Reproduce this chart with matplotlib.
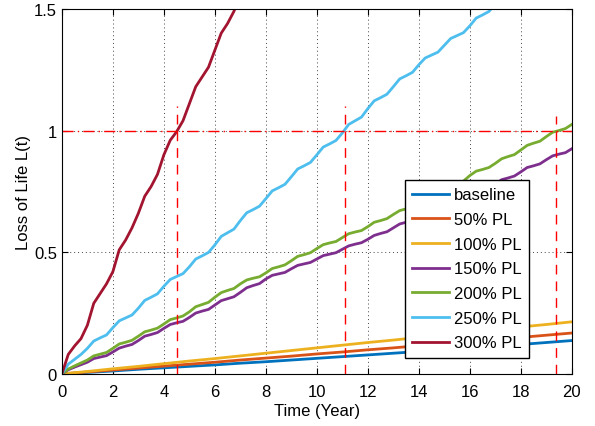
import numpy as np
import matplotlib
matplotlib.use('Agg')
import matplotlib.pyplot as plt

plt.rcParams['font.family'] = ['Liberation Sans', 'DejaVu Sans']

# yearly time axis for the nearly straight lines
years = np.arange(0, 21)
baseline = [0, .006, .012, .019, .025, .031, .037, .044, .050, .057, .064,
            .071, .078, .085, .092, .099, .106, .114, .121, .129, .137]
pl_50 = [0, .008, .016, .024, .032, .040, .048, .057, .065, .073, .082,
         .090, .099, .107, .116, .124, .133, .142, .150, .159, .168]
pl_100 = [0, .010, .021, .031, .042, .053, .063, .074, .085, .096, .107,
          .118, .129, .139, .150, .161, .171, .182, .193, .203, .214]

# quarter-year samples for the wavy curves
pl_150 = [0, .017, .028, .038, .048, .063, .069, .075, .09, .106, .114, .121, .137,
          .155, .162, .170, .187, .203, .21, .216, .232, .25, .258, .265, .283,
          .301, .309, .317, .335, .354, .363, .371, .39, .405, .411, .417, .432,
          .446, .452, .458, .472, .486, .492, .498, .512, .526, .533, .539, .553,
          .569, .577, .584, .60, .616, .623, .629, .645, .661, .668, .674, .69,
          .706, .713, .719, .735, .751, .758, .764, .78, .798, .805, .813, .83,
          .848, .855, .863, .88, .896, .903, .909, .925]
pl_200 = [0, .02, .033, .045, .057, .074, .081, .088, .105, .123, .13, .138, .155,
          .173, .18, .188, .205, .223, .23, .238, .255, .276, .285, .294, .315,
          .334, .343, .351, .37, .386, .393, .399, .415, .433, .44, .448, .465,
          .483, .49, .498, .515, .531, .538, .544, .56, .576, .583, .589, .605,
          .623, .63, .638, .655, .671, .678, .684, .70, .718, .725, .733, .75,
          .773, .783, .792, .815, .833, .84, .848, .865, .884, .893, .901, .92,
          .939, .948, .956, .975, .993, 1.0, 1.008, 1.025]
pl_250 = [0, .04, .06, .08, .105, .135, .148, .16, .19, .218, .23, .242, .27,
          .302, .315, .329, .36, .388, .40, .412, .44, .472, .485, .499, .53,
          .565, .58, .595, .63, .662, .675, .689, .72, .752, .765, .779, .81,
          .842, .855, .869, .90, .932, .945, .959, .99, 1.025, 1.04, 1.055, 1.09,
          1.122, 1.135, 1.149, 1.18, 1.212, 1.225, 1.239, 1.27, 1.298, 1.31, 1.322, 1.35,
          1.378, 1.39, 1.402, 1.43, 1.462, 1.475, 1.489, 1.52]
pl_300 = [0, .08, .115, .145, .20, .29, .33, .37, .42, .51, .55, .60, .66,
          .73, .77, .82, .90, .96, .995, 1.04, 1.11, 1.18, 1.22, 1.26, 1.33,
          1.40, 1.44, 1.49, 1.56]

# years where L(t) reaches 1
cross_x = [4.5, 11.1, 19.4]
cross_top = [1.1, 1.1, 1.06]

colors = ['#0072BD', '#D95319', '#EDB120', '#7E2F8E', '#77AC30', '#4DBEEE', '#A2142F']
labels = ['baseline', '50% PL', '100% PL', '150% PL', '200% PL', '250% PL', '300% PL']

fig = plt.figure(figsize=(5.95, 4.27), dpi=100)
ax = fig.add_axes([0.104, 0.122, 0.857, 0.855])

series = [baseline, pl_50, pl_100, pl_150, pl_200, pl_250, pl_300]
for i, s in enumerate(series):
    if i < 3:
        t = years
    else:
        t = np.arange(len(s)) * 0.25
    ax.plot(t, s, color=colors[i], lw=2, label=labels[i], solid_joinstyle='round')

ax.axhline(1, color='r', lw=1, ls='-.', dashes=(8, 3, 1, 3))
for xc, top in zip(cross_x, cross_top):
    ax.plot([xc, xc], [0, top], color='r', lw=1, ls='--', dashes=(7, 5))

ax.set_xlim(0, 20)
ax.set_ylim(0, 1.5)
ax.set_xticks(range(0, 21, 2))
ax.set_yticks([0, 0.5, 1, 1.5])
ax.set_yticklabels(['0', '0.5', '1', '1.5'])
ax.grid(True, ls=(0, (1, 3)), color='#444444', lw=0.7)
ax.tick_params(direction='in', labelsize=12, top=True, right=True, length=4)
ax.tick_params(axis='x', pad=7)
ax.set_xlabel('Time (Year)', fontsize=12, labelpad=3)
ax.set_ylabel('Loss of Life L(t)', fontsize=12, labelpad=2)

leg = ax.legend(loc='lower right', bbox_to_anchor=(0.916, 0.044), fontsize=12,
                fancybox=False, edgecolor='black', framealpha=1,
                handlelength=2.2, labelspacing=0.58, borderpad=0.45,
                handletextpad=0.3, borderaxespad=0)
leg.get_frame().set_linewidth(1)

fig.savefig('out.png', dpi=100)
